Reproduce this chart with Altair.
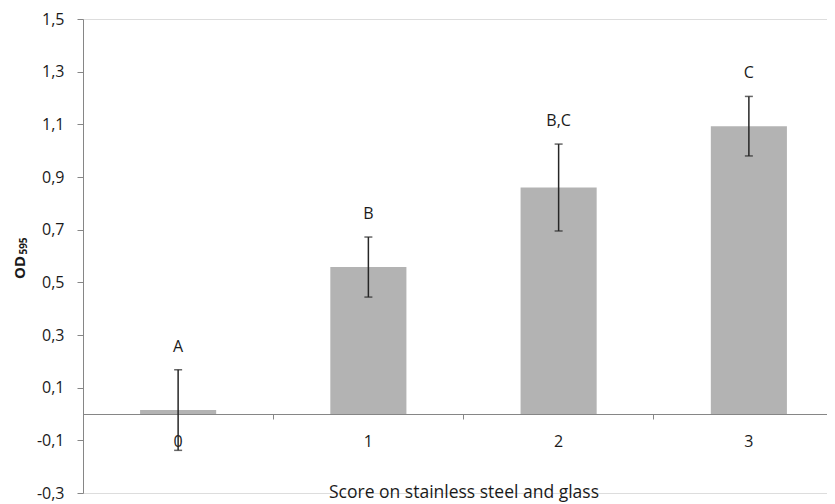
import altair as alt
import pandas as pd

scores = ["0", "1", "2", "3"]
means = [0.015, 0.558, 0.860, 1.093]
errors = [0.153, 0.114, 0.165, 0.113]
letters = ["A", "B", "B,C", "C"]
y_ticks = [-0.3, -0.1, 0.1, 0.3, 0.5, 0.7, 0.9, 1.1, 1.3, 1.5]
y_title_main = "OD"
y_title_sub = ["595"]

df = pd.DataFrame({"score": scores, "mean": means, "err": errors, "letter": letters})

FONT = "Open Sans"
AXIS_GRAY = "#868686"
TEXT = "#1a1a1a"

PLOT_TOP_PAD = 11
PLOT_H = 474
ZERO_FROM_BOTTOM = PLOT_H * 0.3 / 1.8

x_scale = alt.Scale(domain=scores, range=[0, 761], paddingInner=0, paddingOuter=0)
y_scale = alt.Scale(domain=[-0.3, 1.5], nice=False, zero=False)

x_axis = alt.Axis(
    title="Score on stainless steel and glass",
    labelAngle=0, offset=-ZERO_FROM_BOTTOM, bandPosition=0,
    tickSize=5, tickColor=AXIS_GRAY, domainColor=AXIS_GRAY,
    labelPadding=14, labelFontSize=16, labelFont=FONT, labelColor=TEXT,
    titleFontSize=17.5, titleFont=FONT, titleFontWeight="normal", titleColor=TEXT,
    titleY=78, titleBaseline="middle",
)
y_axis = alt.Axis(
    values=y_ticks,
    labelExpr="replace(replace(format(datum.value, '.1f'), '.', ','), '−', '-')",
    grid=False, domainColor=AXIS_GRAY, tickColor=AXIS_GRAY, tickSize=6,
    labelPadding=13, labelFontSize=16, labelFont=FONT, labelColor=TEXT,
    title=y_title_main, titleFont=FONT, titleFontSize=15, titleFontWeight="bold",
    titleColor=TEXT, titleX=-64, titleY=248, titleAngle=270,
    titleAlign="center", titleBaseline="middle",
)

base = alt.Chart(df).transform_calculate(
    lo="datum.mean - datum.err", hi="datum.mean + datum.err"
)

bars = base.mark_bar(color="#b3b3b3", width=alt.RelativeBandSize(0.4)).encode(
    x=alt.X("score:N", scale=x_scale, axis=x_axis),
    y=alt.Y("mean:Q", scale=y_scale, axis=y_axis),
)

rules = base.mark_rule(color="#262626", strokeWidth=1.5).encode(
    x=alt.X("score:N", scale=x_scale),
    y=alt.Y("lo:Q", scale=y_scale),
    y2="hi:Q",
)
ticks_hi = base.mark_tick(color="#262626", size=8, thickness=1.5, orient="horizontal").encode(
    x=alt.X("score:N", scale=x_scale),
    y=alt.Y("hi:Q", scale=y_scale),
)
ticks_lo = base.mark_tick(color="#262626", size=8, thickness=1.5, orient="horizontal").encode(
    x=alt.X("score:N", scale=x_scale),
    y=alt.Y("lo:Q", scale=y_scale),
)
labels = base.mark_text(dy=-23, fontSize=16, font=FONT, color=TEXT, baseline="middle").encode(
    x=alt.X("score:N", scale=x_scale),
    y=alt.Y("hi:Q", scale=y_scale),
    text="letter:N",
)

# subscript part of the y-axis title
sub = alt.Chart(pd.DataFrame({"t": y_title_sub})).mark_text(
    angle=270, fontSize=10, fontWeight="bold", font=FONT, color=TEXT,
    align="center", baseline="middle",
).encode(x=alt.value(-59.5), y=alt.value(227), text="t:N")

chart = alt.layer(bars, rules, ticks_hi, ticks_lo, labels, sub).properties(
    width=744, height=PLOT_H,
    autosize=alt.AutoSizeParams(type="none"),
    padding={"left": 75, "top": PLOT_TOP_PAD, "right": 0, "bottom": 16},
).configure_view(stroke=None).configure(background="white")

chart.save("out.html", embed_options={"renderer": "svg", "actions": False})
